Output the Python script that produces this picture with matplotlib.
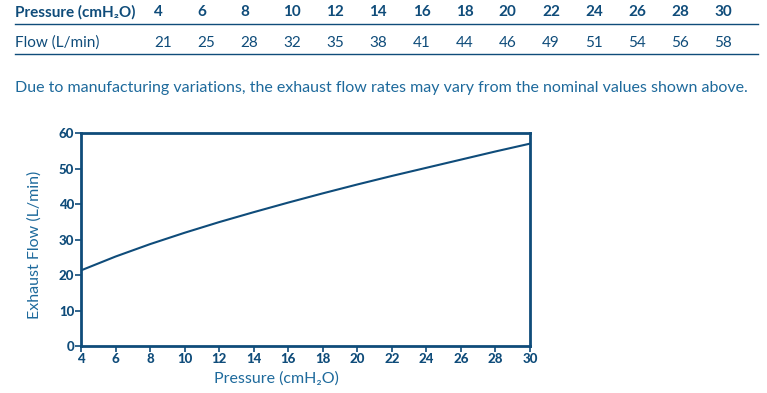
import matplotlib
matplotlib.use("Agg")
import matplotlib.pyplot as plt

# table / curve data
pressure = [4, 6, 8, 10, 12, 14, 16, 18, 20, 22, 24, 26, 28, 30]
flow = [21, 25, 28, 32, 35, 38, 41, 44, 46, 49, 51, 54, 56, 58]

# curve (slightly below table values at the high end)
curve_p = [4, 6, 8, 10, 12, 14, 16, 18, 20, 22, 24, 26, 28, 30]
curve_f = [21.3, 25.2, 28.7, 31.9, 34.9, 37.7, 40.4, 43.0, 45.5, 47.9, 50.2, 52.5, 54.8, 57.0]

dark = '#0f4c7a'
mid = '#1e6a9c'
plt.rcParams['font.family'] = ['Lato', 'DejaVu Sans']

fig = plt.figure(figsize=(7.67, 3.93), dpi=100)
W, H = 767, 393

def fx(px):
    return px / W

def fy(py):
    return 1 - py / H

# table at top
fig.text(fx(15), fy(12), 'Pressure (cmH₂O)', fontsize=11, fontweight='bold',
         color=dark, va='center', ha='left')
fig.text(fx(15), fy(43), 'Flow (L/min)', fontsize=11, color=dark,
         va='center', ha='left')
for i, (p, f) in enumerate(zip(pressure, flow)):
    x = 154 + i * 43.1
    fig.text(fx(x), fy(12), str(p), fontsize=11, fontweight='bold',
             color=dark, va='center', ha='left')
    fig.text(fx(x), fy(43), str(f), fontsize=11, color=dark,
             va='center', ha='left')
for yy in (24, 54):
    fig.add_artist(plt.Line2D([fx(15), fx(758)], [fy(yy), fy(yy)],
                              color=dark, lw=1.0))

fig.text(fx(15), fy(88),
         'Due to manufacturing variations, the exhaust flow rates may vary from the nominal values shown above.',
         fontsize=11.5, color=mid, va='center', ha='left')

# chart
ax = fig.add_axes([fx(81), fy(346), fx(530) - fx(81), fy(133) - fy(346)])
ax.plot(curve_p, curve_f, color=dark, lw=1.5)
ax.set_xlim(4, 30)
ax.set_ylim(0, 60)
ax.set_xticks(range(4, 31, 2))
ax.set_yticks(range(0, 61, 10))
for s in ax.spines.values():
    s.set_color(dark)
    s.set_linewidth(2)
ax.tick_params(colors=dark, width=1.2, length=4, labelsize=9.5, pad=1)
for lab in ax.get_xticklabels() + ax.get_yticklabels():
    lab.set_fontweight(900)

fig.text(fx(35), fy(245), 'Exhaust Flow (L/min)', rotation=90, fontsize=11.5,
         color=mid, va='center', ha='center')
fig.text(fx(276), fy(379), 'Pressure (cmH₂O)', fontsize=11.5,
         color=mid, va='center', ha='center')

fig.savefig('out.png', dpi=100)
